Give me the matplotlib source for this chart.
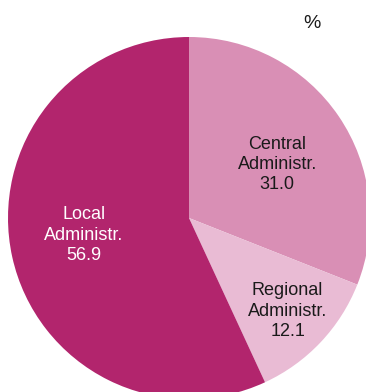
import numpy as np
import matplotlib
matplotlib.use("Agg")
import matplotlib.pyplot as plt

plt.rcParams['font.family'] = ['Liberation Sans', 'DejaVu Sans']

# shares of spending by level of administration (%)
labels = ["Central\nAdministr.", "Regional\nAdministr.", "Local\nAdministr."]
values = [31.0, 12.1, 56.9]
colors = ["#D98FB5", "#E9BBD4", "#B2256D"]
text_colors = ["#1a1a1a", "#1a1a1a", "white"]
# label offset from the pie centre (radius fraction, angle shift in degrees)
label_dist = [0.57, 0.75, 0.59]
label_shift = [-3.0, 0.0, -3.2]

fig = plt.figure(figsize=(3.66, 3.92), dpi=100)
ax = fig.add_axes([0, 0, 1, 1])

wedges, _ = ax.pie(values, colors=colors, startangle=90, counterclock=False,
                   radius=1.0, center=(0, 0))

# labels placed near the middle angle of each wedge
start = 90.0
for lab, v, d, sh, tc in zip(labels, values, label_dist, label_shift, text_colors):
    sweep = v / sum(values) * 360
    mid = np.deg2rad(start - sweep / 2 + sh)
    start -= sweep
    ax.text(d * np.cos(mid), d * np.sin(mid), f"{lab}\n{v:.1f}",
            ha="center", va="center", fontsize=13, color=tc, linespacing=1.25)

ax.set_xlim(-189 / 181, (366 - 189) / 181)
ax.set_ylim(-(392 - 218) / 181, 218 / 181)
ax.set_aspect("auto")
ax.axis("off")

fig.text(312 / 366, 1 - 24 / 392, "%", ha="center", va="center", fontsize=14, color="#1a1a1a")

fig.savefig("out.png", dpi=100)
